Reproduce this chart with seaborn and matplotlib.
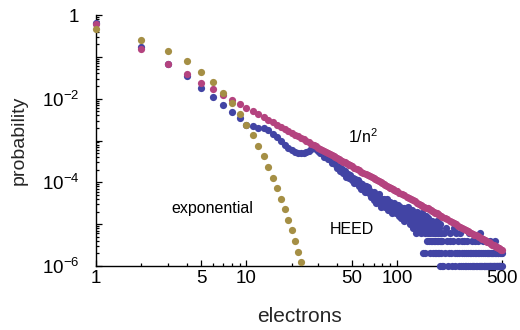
import numpy as np
import pandas as pd
import matplotlib
matplotlib.use("Agg")
import matplotlib.pyplot as plt
import seaborn as sns
from matplotlib.ticker import FixedLocator, FixedFormatter, NullFormatter, LogLocator

# ---------------- data ----------------
# exponential distribution
exp_n = list(range(1, 24))
exp_p = [0.454, 0.2535, 0.1416, 0.0791, 0.0442, 0.02466, 0.01377, 0.00769,
         0.004295, 0.002399, 0.00134, 0.000748, 0.000418, 0.000233, 0.000130,
         7.28e-5, 4.06e-5, 2.27e-5, 1.27e-5, 7.08e-6, 3.95e-6, 2.21e-6, 1.23e-6]

# 1/n^2 distribution
inv_n = (list(range(1, 51)) + list(range(52, 101, 2)) + list(range(104, 201, 4))
         + list(range(208, 497, 8)) + [500])
inv_p = [0.608, 0.152, 0.0676, 0.0380, 0.0243, 0.0169, 0.0124, 0.0095, 0.00751, 0.00608,
         0.00502, 0.00422, 0.00360, 0.00310, 0.00270, 0.00238, 0.00210, 0.00188, 0.00168, 0.00152,
         0.00138, 0.00126, 0.00115, 0.00106, 0.000973, 0.000899, 0.000834, 0.000776, 0.000723, 0.000676,
         0.000633, 0.000594, 0.000558, 0.000526, 0.000496, 0.000469, 0.000444, 0.000421, 0.000400, 0.000380,
         0.000362, 0.000345, 0.000329, 0.000314, 0.000300, 0.000287, 0.000275, 0.000264, 0.000253, 0.000243,
         0.000225, 0.000209, 0.000194, 0.000181, 0.000169, 0.000158, 0.000148, 0.000140, 0.000131, 0.000124,
         0.000117, 0.000111, 0.000105, 9.99e-5, 9.50e-5, 9.04e-5, 8.62e-5, 8.22e-5, 7.85e-5, 7.51e-5,
         7.18e-5, 6.88e-5, 6.60e-5, 6.33e-5, 6.08e-5,
         5.62e-5, 5.21e-5, 4.85e-5, 4.52e-5, 4.22e-5, 3.95e-5, 3.71e-5, 3.49e-5, 3.29e-5, 3.10e-5,
         2.93e-5, 2.78e-5, 2.63e-5, 2.50e-5, 2.38e-5, 2.26e-5, 2.15e-5, 2.06e-5, 1.96e-5, 1.88e-5,
         1.80e-5, 1.72e-5, 1.65e-5, 1.58e-5, 1.52e-5,
         1.41e-5, 1.30e-5, 1.21e-5, 1.13e-5, 1.06e-5, 9.89e-6, 9.28e-6, 8.72e-6, 8.22e-6, 7.76e-6,
         7.33e-6, 6.94e-6, 6.58e-6, 6.25e-6, 5.94e-6, 5.65e-6, 5.39e-6, 5.14e-6, 4.91e-6, 4.69e-6,
         4.49e-6, 4.30e-6, 4.12e-6, 3.96e-6, 3.80e-6, 3.65e-6, 3.51e-6, 3.38e-6, 3.26e-6, 3.14e-6,
         3.03e-6, 2.92e-6, 2.82e-6, 2.73e-6, 2.64e-6, 2.55e-6, 2.47e-6,
         2.43e-6]

# HEED simulation, n = 1..99 (probabilities)
heed_head_n = list(range(1, 100))
heed_head_p = [0.66, 0.168, 0.069, 0.034, 0.0182, 0.0107, 0.0069, 0.0048, 0.0034, 0.0024,
               0.0022, 0.0020, 0.00195, 0.00178, 0.00142, 0.00118, 0.00098, 0.00078, 6.76e-4, 5.89e-4,
               5.42e-4, 5.13e-4, 5.0e-4, 5.0e-4, 5.27e-4, 5.74e-4, 6.4e-4, 6.58e-4, 6.22e-4, 5.57e-4,
               4.99e-4, 4.90e-4, 4.12e-4, 4.10e-4, 3.57e-4, 3.56e-4, 2.94e-4, 2.86e-4, 2.79e-4, 2.25e-4,
               2.39e-4, 1.88e-4, 2.12e-4, 1.71e-4, 1.88e-4, 1.37e-4, 1.54e-4, 1.29e-4, 1.46e-4, 1.12e-4,
               1.24e-4, 9.58e-5, 1.18e-4, 9.64e-5, 1.16e-4, 8.26e-5, 9.40e-5, 7.08e-5, 9.02e-5, 7.60e-5,
               5.80e-5, 8.17e-5, 5.90e-5, 7.83e-5, 5.64e-5, 6.35e-5, 4.36e-5, 5.48e-5, 4.44e-5, 5.90e-5,
               3.88e-5, 4.94e-5, 3.25e-5, 4.89e-5, 3.79e-5, 5.12e-5, 3.19e-5, 3.85e-5, 2.54e-5, 4.05e-5,
               3.00e-5, 4.07e-5, 2.56e-5, 3.47e-5, 2.89e-5, 3.93e-5, 2.21e-5, 3.03e-5, 2.37e-5, 3.43e-5,
               2.42e-5, 3.11e-5, 1.86e-5, 2.54e-5, 3.28e-5, 2.08e-5, 2.68e-5, 1.88e-5, 2.72e-5]

# HEED tail: read as event counts (one count = 2e-6, zero counts drawn on the 1e-6 floor)
count_unit = 2e-6
zero_floor = 1e-6
heed_tail_n = list(range(100, 200)) + list(range(200, 501, 3))
heed_tail_counts = [12, 9, 14, 10, 8, 13, 11, 7, 12, 10,
                    9, 12, 6, 10, 8, 11, 7, 9, 13, 8,
                    7, 10, 5, 9, 8, 6, 11, 7, 4, 8,
                    6, 9, 5, 7, 3, 8, 6, 10, 5, 7,
                    4, 6, 8, 5, 3, 7, 5, 9, 4, 1,
                    6, 4, 7, 3, 5, 1, 8, 4, 2, 6,
                    3, 5, 7, 2, 4, 1, 6, 3, 5, 2,
                    4, 2, 6, 1, 3, 5, 2, 4, 1, 3,
                    2, 5, 3, 1, 4, 2, 6, 3, 1, 2,
                    4, 1, 3, 2, 0, 5, 2, 1, 3, 0,
                    2, 0, 3, 1, 4, 2, 0, 1, 3, 2,
                    1, 0, 2, 4, 1, 0, 3, 1, 2, 0,
                    1, 3, 0, 2, 1, 0, 1, 2, 0, 1,
                    0, 2, 1, 0, 3, 1, 0, 1, 2, 0,
                    1, 0, 0, 2, 1, 0, 1, 0, 2, 1,
                    0, 1, 0, 3, 0, 1, 0, 2, 1, 0,
                    0, 1, 0, 0, 2, 1, 0, 1, 0, 0,
                    1, 0, 2, 0, 1, 0, 0, 1, 0, 1,
                    0, 0, 1, 0, 2, 0, 1, 0, 0, 1,
                    0, 1, 0, 0, 1, 0, 0, 1, 0, 1,
                    0]

x_ticks = [1, 5, 10, 50, 100, 500]
x_tick_labels = ["1", "5", "10", "50", "100", "500"]
y_ticks = [1e-6, 1e-5, 1e-4, 1e-3, 1e-2, 1e-1, 1]
y_tick_labels = [r"$10^{-6}$", "", r"$10^{-4}$", "", r"$10^{-2}$", "", "1"]

# ---------------- tables ----------------
tail_counts = np.array(heed_tail_counts, dtype=float)
tail_p = np.where(tail_counts > 0, tail_counts * count_unit, zero_floor)
heed_df = pd.DataFrame({"electrons": heed_head_n + heed_tail_n,
                        "probability": list(heed_head_p) + list(tail_p)})
inv_df = pd.DataFrame({"electrons": inv_n, "probability": inv_p})
exp_df = pd.DataFrame({"electrons": exp_n, "probability": exp_p})

# ---------------- style ----------------
sns.set_theme(style="ticks")
plt.rcParams["font.family"] = ["Liberation Sans", "DejaVu Sans"]
plt.rcParams["mathtext.fontset"] = "custom"
plt.rcParams["mathtext.rm"] = "Liberation Sans"
plt.rcParams["mathtext.it"] = "Liberation Sans:italic"
plt.rcParams["mathtext.bf"] = "Liberation Sans:bold"

BLUE = "#4244a4"
MAGENTA = "#b4437f"
OLIVE = "#a58f45"

fig = plt.figure(figsize=(5.2, 3.3), dpi=100)
ax = fig.add_axes([96 / 520, 1 - 266 / 330, 406 / 520, 251 / 330])

kw = dict(s=27, linewidth=0, clip_on=False, legend=False)
sns.scatterplot(data=heed_df, x="electrons", y="probability", color=BLUE, ax=ax, zorder=3, **kw)
sns.scatterplot(data=inv_df, x="electrons", y="probability", color=MAGENTA, ax=ax, zorder=4, **kw)
sns.scatterplot(data=exp_df, x="electrons", y="probability", color=OLIVE, ax=ax, zorder=5, **kw)

ax.set_xscale("log")
ax.set_yscale("log")
ax.set_xlim(1, 500)
ax.set_ylim(1e-6, 1)

ax.xaxis.set_major_locator(FixedLocator(x_ticks))
ax.xaxis.set_major_formatter(FixedFormatter(x_tick_labels))
ax.xaxis.set_minor_locator(LogLocator(base=10, subs=np.arange(2, 10)))
ax.xaxis.set_minor_formatter(NullFormatter())
ax.yaxis.set_major_locator(FixedLocator(y_ticks))
ax.yaxis.set_major_formatter(FixedFormatter(y_tick_labels))
ax.yaxis.set_minor_locator(LogLocator(base=10, subs=np.arange(2, 10)))
ax.yaxis.set_minor_formatter(NullFormatter())

for side in ("top", "right"):
    ax.spines[side].set_visible(False)
for side in ("left", "bottom"):
    ax.spines[side].set_linewidth(1.0)
    ax.spines[side].set_color("black")

ax.tick_params(which="both", direction="in", colors="black", width=0.9)
ax.tick_params(which="major", length=4.5, labelsize=13.5)
ax.tick_params(which="minor", length=2.2)
ax.tick_params(axis="x", which="major", pad=3)
ax.tick_params(axis="y", which="major", pad=12)

ax.set_xlabel("electrons", fontsize=15)
ax.set_ylabel("probability", fontsize=14)
ax.xaxis.set_label_coords(0.5, -0.165)
ax.yaxis.set_label_coords(-0.168, 0.50)

ax.text(59.6, 1.27e-3, r"1/n$^{2}$", fontsize=11.5, ha="center", va="center", color="black")
ax.text(50.4, 7.6e-6, "HEED", fontsize=11.5, ha="center", va="center", color="black")
ax.text(5.9, 2.42e-5, "exponential", fontsize=11.5, ha="center", va="center", color="black")

fig.savefig("out.png", dpi=100)
